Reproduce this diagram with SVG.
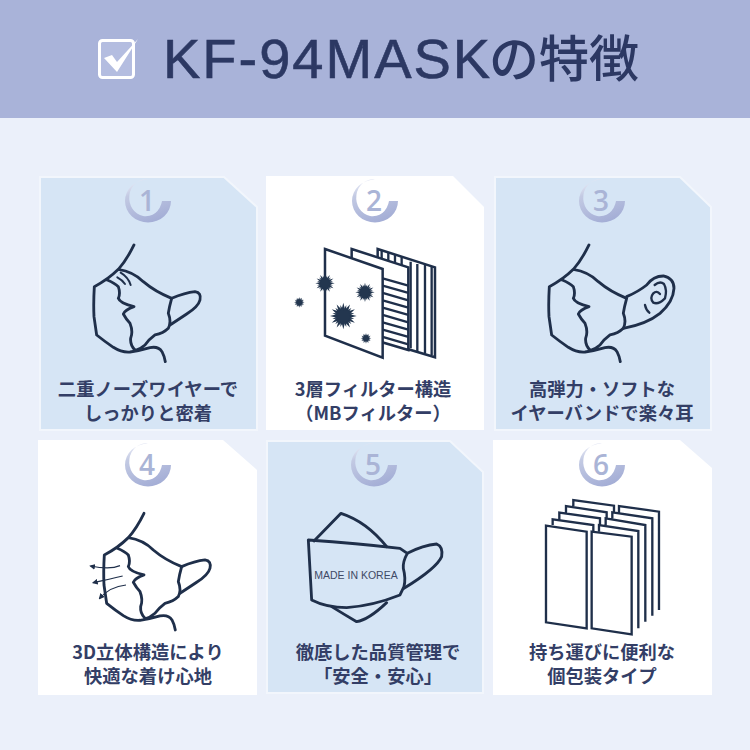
<svg xmlns="http://www.w3.org/2000/svg" width="750" height="750" viewBox="0 0 750 750">
<style>
.blue{fill:#d6e5f5;stroke:#f2f6fc;stroke-width:2}
.white{fill:#fff}
.ln{fill:none;stroke:#1f2f4a;stroke-width:8.500;stroke-linecap:round;stroke-linejoin:round}
.pn{fill:#fff;stroke:#1f2f4a;stroke-width:7.500;stroke-linejoin:miter}
.st{fill:none;stroke:#1f2f4a;stroke-width:7}
.lab{font-family:"Noto Sans CJK JP","Liberation Sans",sans-serif;font-size:18.300px;font-weight:700;fill:#333e66;text-anchor:middle}
.num{font-family:"Open Sans","Liberation Sans",sans-serif;font-size:28px;font-weight:600;fill:#aab4d6;text-anchor:middle}
.germ{fill:#23364f}
</style>
<defs>
<linearGradient id="arc" x1="0.3" y1="0" x2="0.7" y2="1"><stop offset="0" stop-color="#e6e9f5"/><stop offset="0.25" stop-color="#c3cae3"/><stop offset="1" stop-color="#a2acd5"/></linearGradient>
<marker id="ah" viewBox="0 0 8 8" refX="6" refY="4" markerWidth="5" markerHeight="5" orient="auto"><path d="M0 0L8 4L0 8Z" fill="#1f2f4a"/></marker>
<path id="arcp" d="M0-21.500A23 21.500 0 1 0 23 0L14 0A16.500 18.500 0 1 1 0-21.500Z" fill="url(#arc)"/>
<path id="body" d="M312 225Q290 270 265 298Q235 328 193 350Q190 400 192 440L200 495Q225 515 250 532Q275 548 300 546Q330 542 360 533Q385 528 396 545Q403 558 406 575M265 298Q310 305 340 335Q375 365 425 385Q418 410 415 430Q425 455 415 475Q400 490 375 495Q355 510 345 525Q330 538 315 542M232 330Q255 340 265 350Q272 370 265 385Q270 400 312 410Q285 420 280 432Q290 450 300 460Q310 485 302 505Q300 525 315 540"/>
<path id="loop" d="M425 385Q465 368 495 365Q515 368 510 390Q505 410 470 432Q440 452 420 465"/>
<polygon id="g0" points="1,0 .483,.129 .866,.5 .354,.354 .5,.866 .129,.483 0,1 -.129,.483 -.5,.866 -.354,.354 -.866,.5 -.483,.129 -1,0 -.483,-.129 -.866,-.5 -.354,-.354 -.5,-.866 -.129,-.483 0,-1 .129,-.483 .5,-.866 .354,-.354 .866,-.5 .483,-.129"/>
<g id="germ" class="germ"><use href="#g0"/><use href="#g0" transform="rotate(15) scale(.85)"/></g>
</defs>
<rect width="750" height="750" fill="#ebf0fa"/>
<g id="header">
<rect width="750" height="118" fill="#a9b3d9"/>
<rect x="99.500" y="40.500" width="34" height="37" rx="3" fill="#b4bde0" stroke="#fff" stroke-width="3"/>
<polygon points="104,58 112,55 117,62 138,39 117,72" fill="#fff"/>
<text x="163" y="78" font-family="'Liberation Sans',sans-serif" font-size="56" letter-spacing="2" fill="#2c3863" stroke="#2c3863" stroke-width=".6">KF-94MASK</text>
<text x="489" y="77" font-family="'Noto Sans CJK JP',sans-serif" font-size="50" font-weight="500" fill="#2c3863">の特徴</text>
</g>
<g id="card1">
<polygon class="blue" points="40,177 224,177 257,207 257,430 40,430"/>
<use href="#arcp" x="148" y="201"/><text class="num" x="147" y="211">1</text>
<g transform="translate(30 170) scale(.3333)"><use href="#body" class="ln"/><use href="#loop" class="ln"/><path class="ln" style="stroke-width:6" d="M272 308Q295 322 302 345M262 322Q277 330 285 342"/></g>
<text class="lab" x="148" y="396">二重ノーズワイヤーで</text><text class="lab" x="148" y="420">しっかりと密着</text>
</g>
<g id="card2">
<polygon class="white" points="266,176 453,176 484,207 484,430 266,430"/>
<use href="#arcp" x="375" y="201"/><text class="num" x="374" y="211">2</text>
<g transform="translate(260 170) scale(.3333)">
<polygon class="pn" points="353,237 525,292 525,562 353,510"/>
<path class="st" d="M365 240V290M385 247V290M405 253V290M425 260V290M452 275V535M472 282V545M495 285V550M515 290V555"/>
<polygon class="pn" points="275,237 445,292 445,540 275,490"/>
<path class="st" d="M368 325L445 347M368 347L445 369M368 369L445 391M368 391L445 413M368 413L445 435M368 435L445 457M368 457L445 479M368 479L445 501M368 501L445 523"/>
<polygon class="pn" points="195,237 368,297 368,563 195,497"/>
<use href="#germ" transform="translate(195 340) scale(29)"/>
<use href="#germ" transform="translate(315 367) scale(29)"/>
<use href="#germ" transform="translate(250 438) scale(40)"/>
<use href="#germ" transform="translate(318 505) scale(16)"/>
<use href="#germ" transform="translate(118 397) scale(16)"/>
</g>
<text class="lab" x="373" y="396">3層フィルター構造</text><text class="lab" x="373" y="420">（MBフィルター）</text>
</g>
<g id="card3">
<polygon class="blue" points="495,177 680,177 711,207 711,430 495,430"/>
<use href="#arcp" x="602" y="201"/><text class="num" x="601" y="211">3</text>
<g transform="translate(485 170) scale(.3333)"><use href="#body" class="ln"/></g>
<g transform="translate(490 170) scale(.3333)"><path class="ln" d="M410 380Q445 365 470 345Q490 318 520 318Q552 325 552 355Q550 395 510 430Q470 462 400 475"/><path class="ln" style="stroke-width:7" d="M494 345Q510 332 522 342Q532 360 525 385Q505 405 490 398Q478 385 490 370Q500 360 510 372M465 405Q468 420 478 428"/></g>
<text class="lab" x="602" y="396">高弾力・ソフトな</text><text class="lab" x="602" y="420">イヤーバンドで楽々耳</text>
</g>
<g id="card4">
<polygon class="white" points="38,440 223,440 257,470 257,695 38,695"/>
<use href="#arcp" x="148" y="465"/><text class="num" x="147" y="475">4</text>
<g transform="translate(40 438.300) scale(.3333)"><use href="#body" class="ln"/><use href="#loop" class="ln"/></g>
<g transform="translate(30 435) scale(.3333)" fill="none" stroke="#1f2f4a" stroke-width="3.500"><path marker-end="url(#ah)" d="M270 392Q240 405 182 393"/><path marker-end="url(#ah)" d="M278 423Q240 432 190 443"/><path marker-end="url(#ah)" d="M288 450Q240 455 209 490"/></g>
<text class="lab" x="148" y="659">3D立体構造により</text><text class="lab" x="148" y="683">快適な着け心地</text>
</g>
<g id="card5">
<polygon class="blue" points="267,441 450,441 483,472 483,693 267,693"/>
<use href="#arcp" x="374" y="465"/><text class="num" x="373" y="475">5</text>
<g transform="translate(260 435) scale(.3333)">
<path class="ln" d="M162 318L243 235Q320 260 380 335M215 515Q255 540 290 560Q325 555 380 503M442 355Q490 330 530 327Q550 335 545 365Q530 400 432 460"/>
<path class="ln" d="M145 315Q290 325 420 340L442 355Q428 380 430 400Q438 430 432 455L420 480Q340 512 260 518Q200 518 155 495Z" fill="#d6e5f5"/>
</g>
<text x="356" y="579" font-family="'Liberation Sans',sans-serif" font-size="10.500" fill="#3f4a66" text-anchor="middle">MADE IN KOREA</text>
<text class="lab" x="378" y="659">徹底した品質管理で</text><text class="lab" x="378" y="683">「安全・安心」</text>
</g>
<g id="card6">
<polygon class="white" points="493,440 680,440 712,468 712,695 493,695"/>
<use href="#arcp" x="602" y="465"/><text class="num" x="601" y="475">6</text>
<g transform="translate(490 435) scale(.3333)" fill="none" stroke="#1f2f4a" stroke-width="7">
<path d="M250 213V195L372 212V232M387 232V213L507 230V525M228 233V213L350 232V250M367 250V232L487 250V542M208 253V233L330 250V268M347 270V250L466 270V560M188 270V253L310 270V290M327 290V270L445 288V580"/>
<polygon points="168,272 290,290 290,580 168,562"/>
<polygon points="305,290 425,305 425,598 305,580"/>
</g>
<text class="lab" x="602" y="659">持ち運びに便利な</text><text class="lab" x="602" y="683">個包装タイプ</text>
</g>
</svg>
